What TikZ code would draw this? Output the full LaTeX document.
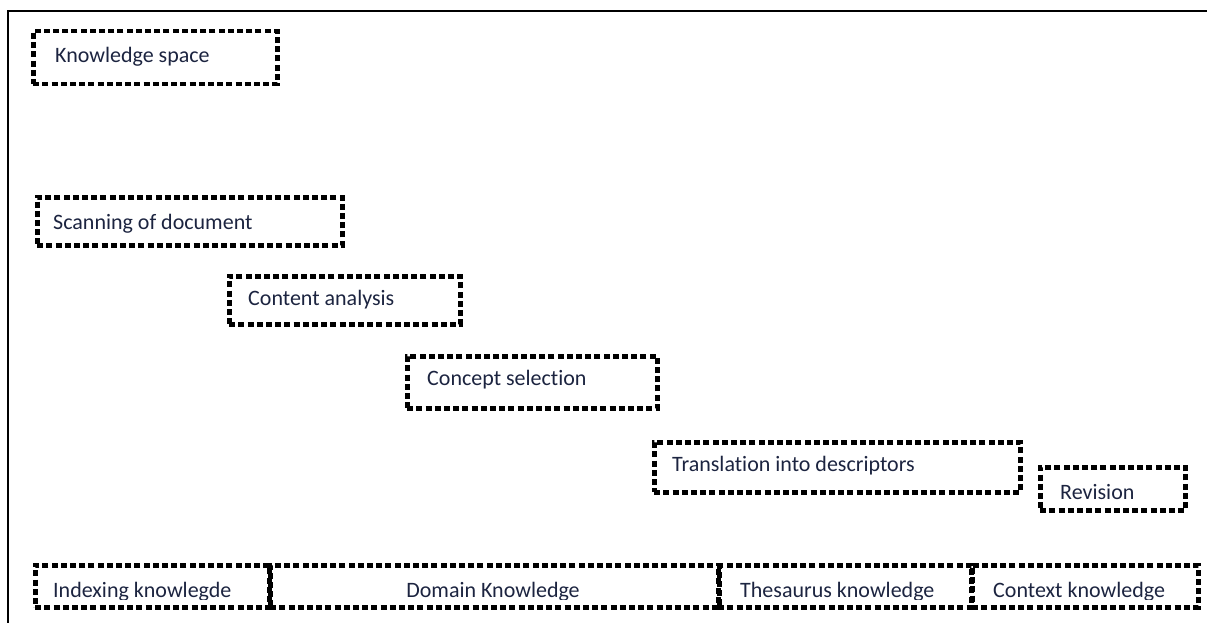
\documentclass[tikz,border=0pt]{standalone}
\usepackage{fontspec}
\setmainfont{Carlito}[Ligatures=NoCommon,RawFeature=-liga]
\begin{document}
\begin{tikzpicture}[x=1pt,y=-1pt,
  box/.style={draw=black, line width=4.5pt, dash pattern=on 6pt off 3.2pt, rectangle, inner sep=0pt, anchor=north west},
  lbl/.style={anchor=base west, inner sep=0pt, text={rgb,255:red,28;green,36;blue,64}, font=\fontsize{22}{26}\selectfont},
  frame/.style={draw=black, line width=2pt}]
\useasboundingbox (0,0) rectangle (1207,623);
% frame
\coordinate (tl) at (8,11);
\coordinate (tr) at (1207,11);
\coordinate (bl) at (8,623);
\draw[frame] (tr) -- (tl) -- (bl);
% upper boxes
\node[box, minimum width=244pt, minimum height=53pt] (ks) at (31,29) {};
\node[lbl] (kst) at (55,63) {Knowledge space};
\node[box, minimum width=305pt, minimum height=48pt] (sd) at (35,195) {};
\node[lbl] (sdt) at (53,229) {Scanning of document};
\node[box, minimum width=231pt, minimum height=48pt] (ca) at (227,274) {};
\node[lbl] (cat) at (248,305) {Content analysis};
\node[box, minimum width=250pt, minimum height=52pt] (cs) at (405,354) {};
\node[lbl] (cst) at (427,385) {Concept selection};
\node[box, minimum width=366pt, minimum height=50pt] (td) at (652,440) {};
\node[lbl] (tdt) at (672,471) {Translation into descriptors};
\node[box, minimum width=145pt, minimum height=43pt] (rv) at (1038,465) {};
\node[lbl] (rvt) at (1060,499) {Revision};
% bottom row
\node[box, minimum width=234pt, minimum height=42pt] (ik) at (33,563) {};
\node[box, minimum width=449pt, minimum height=42pt] (dk) at (268,563) {};
\node[box, minimum width=253pt, minimum height=42pt] (tk) at (716,563) {};
\node[box, minimum width=226pt, minimum height=42pt] (ck) at (970,563) {};
\begin{scope}
\clip (0,0) rectangle (1207,599);
\node[lbl] (ikt) at (53,597) {Indexing knowlegde};
\node[lbl, anchor=base] (dkt) at (493,597) {Domain Knowledge};
\node[lbl] (tkt) at (740,597) {Thesaurus knowledge};
\node[lbl] (ckt) at (993,597) {Context knowledge};
\end{scope}
\end{tikzpicture}
\end{document}
